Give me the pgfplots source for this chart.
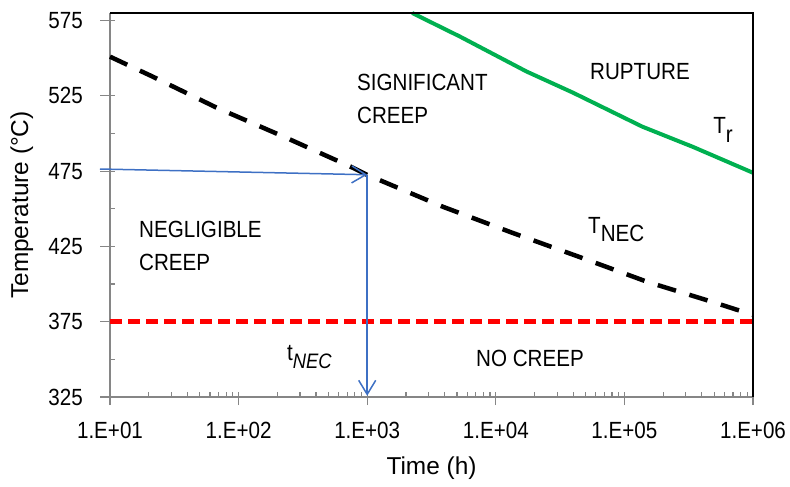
\documentclass[border=0pt]{standalone}
\usepackage{fontspec}
\setmainfont{Liberation Sans}[FakeStretch=0.88]
\newfontfamily\labfont{Liberation Sans}
\usepackage{pgfplots}
\pgfplotsset{compat=1.18}
\usetikzlibrary{arrows.meta}
\definecolor{axgray}{RGB}{134,134,134}
\definecolor{rgreen}{RGB}{0,176,80}
\definecolor{arrblue}{RGB}{62,112,196}
\newcommand{\fs}{\fontsize{23.5}{33}\selectfont}
\newcommand{\ls}{\labfont\fontsize{24.5}{28}\selectfont}
\begin{document}
\begin{tikzpicture}
\path[use as bounding box] (-110bp,-90bp) rectangle (680bp,397bp);
\begin{axis}[
  scale only axis,
  width=643bp, height=384bp,
  xmode=log,
  xmin=10, xmax=1000000,
  ymin=325, ymax=580,
  axis x line*=bottom, axis y line*=left,
  axis line style={axgray, line width=1.3bp, -},
  xtick={10,100,1000,10000,100000,1000000},
  xticklabels={1.E+01,1.E+02,1.E+03,1.E+04,1.E+05,1.E+06},
  ytick={325,375,425,475,525,575},
  yticklabels={325,375,425,475,525,575},
  minor ytick={350,400,450,500,550},
  tick align=inside,
  major tick length=5bp, minor tick length=5bp,
  tick style={axgray, line width=1.2bp},
  extra x ticks={10,100,1000,10000,100000,1000000},
  extra x tick labels={},
  extra x tick style={tick align=outside, major tick length=8bp},
  extra y ticks={325,375,425,475,525,575},
  extra y tick labels={},
  extra y tick style={tick align=outside, major tick length=10bp},
  ticklabel style={font=\fs},
  xticklabel style={anchor=base, yshift=-41bp, inner sep=0pt},
  yticklabel style={anchor=east, xshift=-27bp, inner sep=0pt},
  xlabel={Time (h)},
  ylabel={Temperature (°C)},
  label style={font=\ls},
  xlabel style={at={(axis description cs:0.50,-0.185)}, anchor=center},
  ylabel style={at={(axis description cs:-0.137,0.5)}, anchor=center, rotate=0},
  clip=false,
]
% NEC temperature (black dashed)
\addplot[black, line width=4.5bp, dash pattern=on 19bp off 14bp] coordinates {
 (10,551) (21.4,537.8) (67.6,517.1) (223.9,497.9) (741,478) (1000,472.5)
 (3890,451.3) (13490,434) (44670,418) (151360,401.4) (489800,388) (1000000,379.5)};
% rupture temperature (green)
\addplot[rgreen, line width=4bp] coordinates {
 (2239,580) (5248,564.4) (17380,541.1) (39810,527.1) (138000,504.5) (338800,491.2) (1000000,473.9)};
% no creep limit (red dashed)
\addplot[red, line width=4.5bp, dash pattern=on 12bp off 6bp] coordinates {(10,375) (1000000,375)};
% blue arrows
\addplot[arrblue, line width=1.5bp, -{Straight Barb[length=14bp,width=17bp]}] coordinates {(8.36,476.4) (1000,472.6)};
\addplot[arrblue, line width=1.5bp, -{Straight Barb[length=14bp,width=17bp]}] coordinates {(1000,472.6) (1000,325.8)};
% frame top/right
\draw[black, line width=1.2bp] (rel axis cs:0,1) -- (rel axis cs:1,1) -- (rel axis cs:1,0);
% annotations
\node[font=\fs, anchor=west, align=left, inner sep=0pt] at (axis cs:832,522.8) {SIGNIFICANT\\CREEP};
\node[font=\fs, anchor=west, inner sep=0pt] at (axis cs:54000,540.8) {RUPTURE};
\node[font=\fs, anchor=west, inner sep=0pt] at (axis cs:489000,502.5) {T\raisebox{-9bp}{r}};
\node[font=\fs, anchor=west, align=left, inner sep=0pt] at (axis cs:16.8,425.4) {NEGLIGIBLE\\CREEP};
\node[font=\fs, anchor=west, inner sep=0pt] at (axis cs:52100,436) {T\raisebox{-8bp}{NEC}};
\node[font=\fs, anchor=west, inner sep=0pt] at (axis cs:237.7,351.6) {t\raisebox{-8bp}{\fontsize{21}{24}\selectfont\itshape NEC}};
\node[font=\fs, anchor=west, inner sep=0pt] at (axis cs:7015,350.3) {NO CREEP};
\end{axis}
\end{tikzpicture}
\end{document}
